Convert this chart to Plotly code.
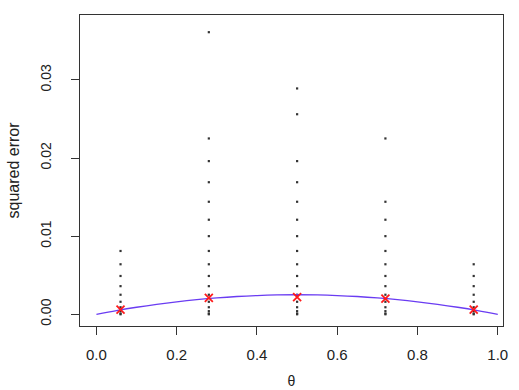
import plotly.graph_objects as go

# theta values where estimators were evaluated
thetas = [0.06, 0.28, 0.5, 0.72, 0.94]

# squared errors (distinct values) observed at each theta
se_006 = [0.0081, 0.0064, 0.0049, 0.0036, 0.0025, 0.0016, 0.0009, 0.0004, 0.0001, 0.0]
se_028 = [0.0361, 0.0225, 0.0196, 0.0169, 0.0144, 0.0121, 0.0100, 0.0081, 0.0064, 0.0049,
          0.0036, 0.0025, 0.0016, 0.0009, 0.0004, 0.0001, 0.0]
se_050 = [0.0289, 0.0256, 0.0196, 0.0169, 0.0144, 0.0121, 0.0100, 0.0081, 0.0064, 0.0049,
          0.0036, 0.0025, 0.0016, 0.0009, 0.0004, 0.0001, 0.0]
se_072 = [0.0225, 0.0144, 0.0121, 0.0100, 0.0081, 0.0064, 0.0049, 0.0036, 0.0025, 0.0016,
          0.0009, 0.0004, 0.0001, 0.0]
se_094 = [0.0064, 0.0049, 0.0036, 0.0025, 0.0016, 0.0009, 0.0004, 0.0001, 0.0]

# mean squared error at each theta (red crosses)
mse = [0.0006, 0.0021, 0.0022, 0.0020, 0.0006]

# theoretical curve
curve_theta = [0.0, 0.05, 0.1, 0.15, 0.2, 0.25, 0.3, 0.35, 0.4, 0.45, 0.5,
               0.55, 0.6, 0.65, 0.7, 0.75, 0.8, 0.85, 0.9, 0.95, 1.0]
curve_val = [0.0, 0.000475, 0.0009, 0.001275, 0.0016, 0.001875, 0.0021, 0.002275, 0.0024, 0.002475, 0.0025,
             0.002475, 0.0024, 0.002275, 0.0021, 0.001875, 0.0016, 0.001275, 0.0009, 0.000475, 0.0]

x_ticks = [0.0, 0.2, 0.4, 0.6, 0.8, 1.0]
y_ticks = [0.00, 0.01, 0.02, 0.03]

groups = [se_006, se_028, se_050, se_072, se_094]
dx, dy = [], []
for t, g in zip(thetas, groups):
    for v in g:
        dx.append(t)
        dy.append(v)

fig = go.Figure()
fig.add_trace(go.Scatter(x=dx, y=dy, mode="markers",
                         marker=dict(symbol="square", size=2.2, color="#333333", line=dict(width=0)),
                         showlegend=False))
fig.add_trace(go.Scatter(x=curve_theta, y=curve_val, mode="lines",
                         line=dict(color="#6a3cf2", width=1.3, shape="spline"),
                         showlegend=False))
fig.add_trace(go.Scatter(x=thetas, y=mse, mode="markers",
                         marker=dict(symbol="x-thin", size=8, line=dict(width=1.8, color="#ff1a1a")),
                         showlegend=False))

font = dict(family="Liberation Sans, Arial, sans-serif", size=13, color="#222222")
fig.update_layout(
    width=519, height=390,
    margin=dict(l=80, r=16, t=15, b=64),
    plot_bgcolor="white", paper_bgcolor="white",
    font=font,
    xaxis=dict(range=[-0.041, 1.013], tickvals=x_ticks, ticktext=[f"{v:.1f}" for v in x_ticks],
               tickfont=dict(size=15), ticklabelstandoff=7, automargin=False,
               showgrid=False, zeroline=False, showline=True, mirror=True,
               linecolor="#333333", linewidth=1, ticks="outside", ticklen=8, tickcolor="#333333",
               title=dict(text="θ", standoff=14, font=dict(size=14))),
    yaxis=dict(range=[-0.0015, 0.0383], tickvals=y_ticks, ticktext=[f"{v:.2f}" for v in y_ticks],
               tickangle=-90, tickfont=dict(size=14), ticklabelstandoff=14, automargin=False,
               showgrid=False, zeroline=False, showline=True, mirror=True,
               linecolor="#333333", linewidth=1, ticks="outside", ticklen=8, tickcolor="#333333",
               title=dict(text="squared error", standoff=14)),
)

fig.write_html("out.html")
